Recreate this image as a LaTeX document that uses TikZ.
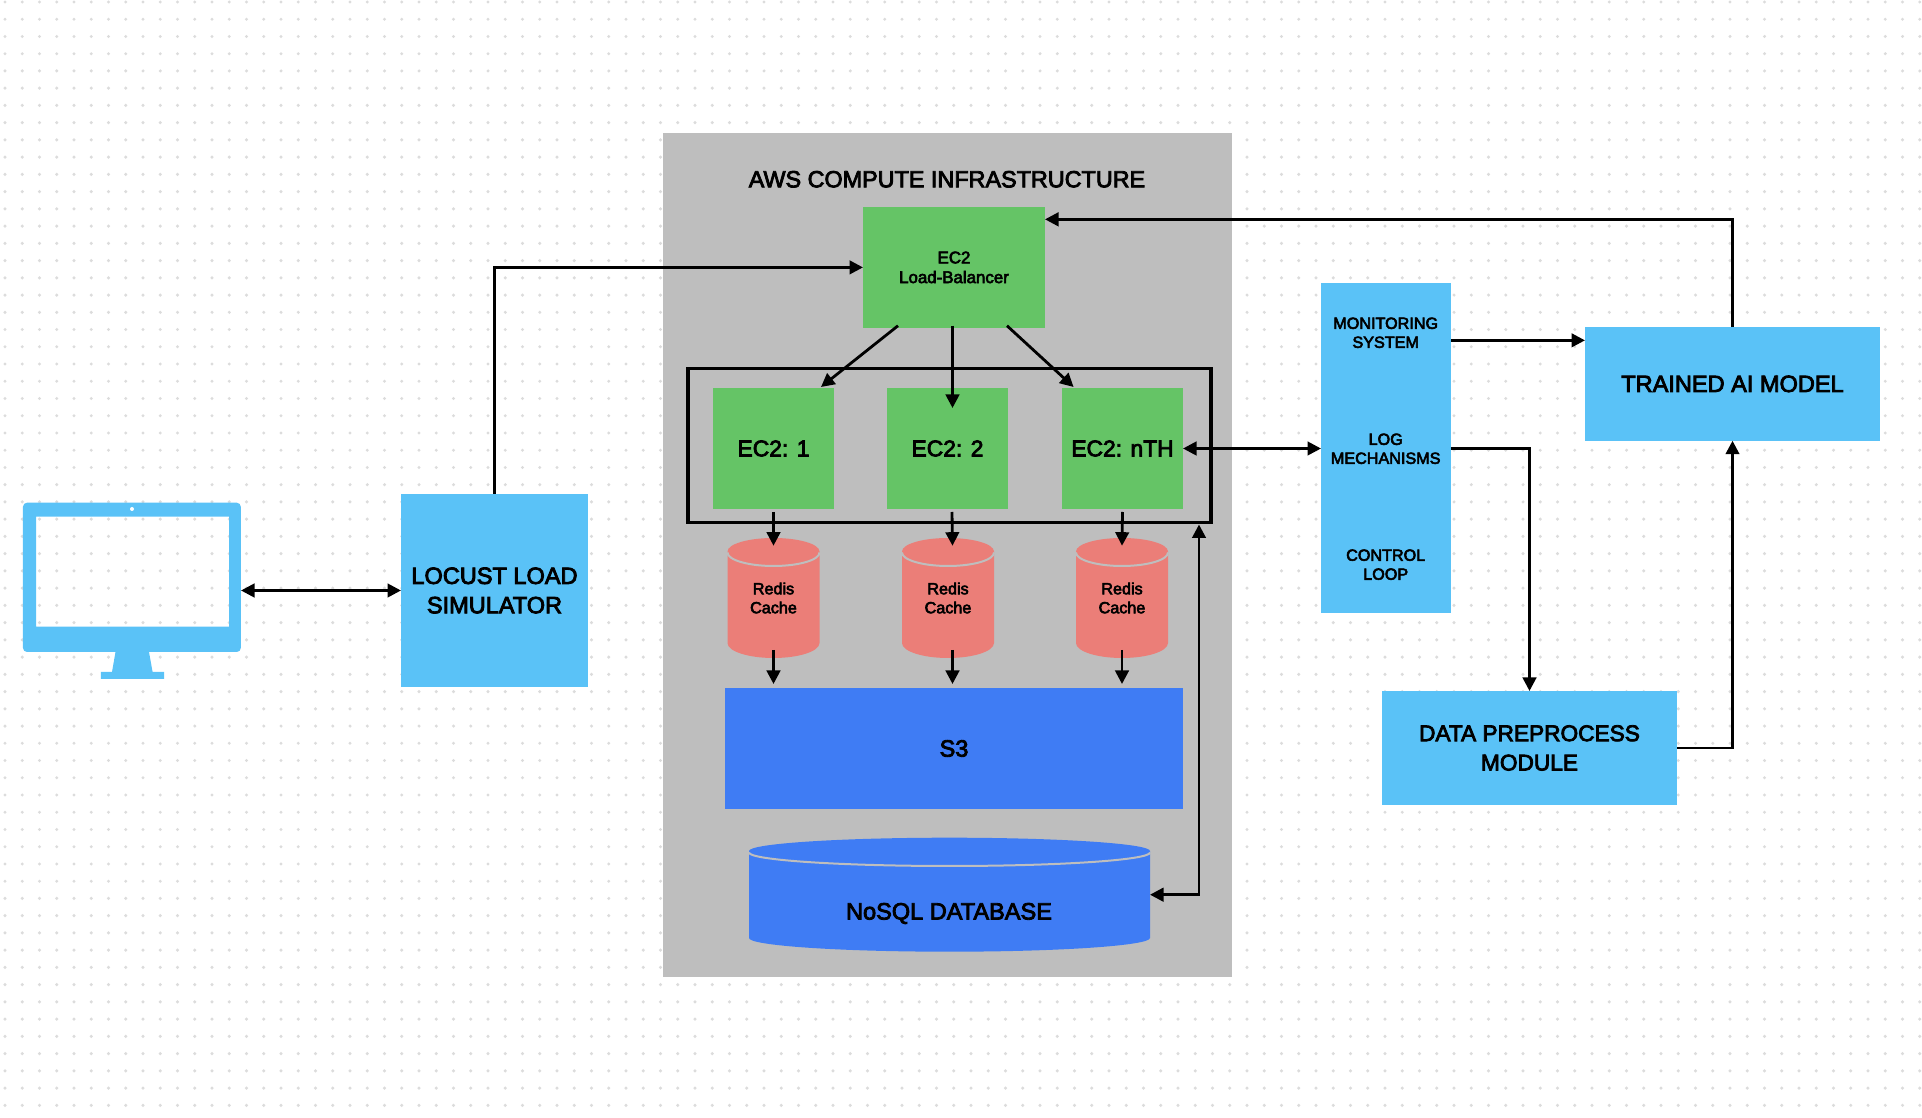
\documentclass[tikz,border=0pt]{standalone}
\usepackage{fontspec}
\setmainfont[FakeBold=3.5]{Liberation Sans}
\usetikzlibrary{arrows.meta}
\definecolor{skyblue}{HTML}{5AC2F7}
\definecolor{ecgreen}{HTML}{65C466}
\definecolor{cachered}{HTML}{EB7E78}
\definecolor{storeblue}{HTML}{3F7CF4}
\definecolor{awsgray}{HTML}{BEBEBE}
\definecolor{dotgray}{HTML}{DCDCDC}
\tikzset{
  boxbase/.style={rectangle,inner sep=0,outer sep=0,align=center,text=black},
  bigtext/.style={font=\fontsize{6.7}{8.35}\selectfont},
  smalltext/.style={font=\fontsize{4.6}{5.4}\selectfont},
  skybox/.style={boxbase,bigtext,fill=skyblue},
  ecbox/.style={boxbase,font=\fontsize{6.5}{8.35}\selectfont,fill=ecgreen,minimum width=1.21cm,minimum height=1.21cm},
  storebox/.style={boxbase,bigtext,fill=storeblue},
  rediscyl/.style={boxbase,smalltext,minimum width=.92cm,minimum height=1.2cm},
  rimline/.style={draw=awsgray,line width=.02cm},
  dotrow/.style={dotgray,line cap=round,line width=.034cm,dash pattern=on 0pt off .1725cm},
  flow/.style={-{Triangle[length=.135cm,width=.135cm]},line width=.028cm,black},
  flowboth/.style={{Triangle[length=.135cm,width=.135cm]}-{Triangle[length=.135cm,width=.135cm]},line width=.028cm,black}
}
\begin{document}
\begin{tikzpicture}
  \useasboundingbox (0,0) rectangle (19.22,-11.18);
  % dotted canvas
  \foreach \j in {0,...,64}
    \draw[dotrow] (.05,{-.02-.1724*\j}) -- (19.22,{-.02-.1724*\j});
  % monitor
  \fill[skyblue,even odd rule,rounded corners=.04cm] (.23,-5.027) rectangle (2.408,-6.52) [sharp corners] (.36,-5.167) rectangle (2.29,-6.267);
  \fill[skyblue] (1.155,-6.52) -- (1.49,-6.52) -- (1.526,-6.72) -- (1.64,-6.72) -- (1.64,-6.79) -- (1.008,-6.79) -- (1.008,-6.72) -- (1.12,-6.72) -- cycle;
  \fill[white] (1.32,-5.09) circle (.02);
  \node[boxbase,minimum width=2.18cm,minimum height=1.49cm] (pc) at (1.32,-5.775) {};
  \node[skybox,minimum width=1.87cm,minimum height=1.93cm] (locust) at (4.945,-5.905) {LOCUST LOAD\\SIMULATOR};
  % aws block
  \node[boxbase,fill=awsgray,minimum width=5.69cm,minimum height=8.437cm] (aws) at (9.475,-5.549) {};
  \node[boxbase,font=\fontsize{6.65}{8.35}\selectfont] (awstitle) at (9.47,-1.793) {AWS COMPUTE INFRASTRUCTURE};
  \node[boxbase,font=\fontsize{4.8}{5.6}\selectfont,fill=ecgreen,minimum width=1.82cm,minimum height=1.207cm] (lb) at (9.54,-2.674) {EC2\\Load-Balancer};
  \node[boxbase,draw=black,line width=.035cm,minimum width=5.23cm,minimum height=1.54cm] (cluster) at (9.495,-4.455) {};
  \node[ecbox] (ec2a) at (7.735,-4.485) {EC2: 1};
  \node[ecbox] (ec2b) at (9.475,-4.485) {EC2: 2};
  \node[ecbox] (ec2c) at (11.225,-4.485) {EC2: nTH};
  \foreach \cx in {7.735,9.48,11.22} {
    \fill[cachered] ({\cx-.46},-5.515) arc[start angle=180,end angle=0,x radius=.46,y radius=.135] -- ({\cx+.46},-6.43) arc[start angle=0,end angle=-180,x radius=.46,y radius=.15] -- cycle;
    \draw[rimline] ({\cx-.46},-5.525) arc[start angle=180,end angle=360,x radius=.46,y radius=.135];
  }
  \node[rediscyl] (redisa) at (7.735,-5.98) {Redis\\Cache};
  \node[rediscyl] (redisb) at (9.48,-5.98) {Redis\\Cache};
  \node[rediscyl] (redisc) at (11.22,-5.98) {Redis\\Cache};
  \node[storebox,minimum width=4.58cm,minimum height=1.21cm] (sthree) at (9.54,-7.485) {S3};
  \fill[storeblue] (7.49,-8.51) arc[start angle=180,end angle=0,x radius=2.005,y radius=.133] -- (11.5,-9.38) arc[start angle=0,end angle=-180,x radius=2.005,y radius=.137] -- cycle;
  \draw[rimline] (7.49,-8.525) arc[start angle=180,end angle=360,x radius=2.005,y radius=.135];
  \node[boxbase,minimum width=4.01cm,minimum height=1.14cm] (nosql) at (9.495,-8.947) {};
  \node[boxbase,bigtext] (nosqltext) at (9.49,-9.135) {NoSQL DATABASE};
  % right side
  \node[skybox,minimum width=1.30cm,minimum height=3.298cm] (mon) at (13.86,-4.479) {};
  \node[boxbase,smalltext] (monitoring) at (13.857,-3.328) {MONITORING\\SYSTEM};
  \node[boxbase,smalltext] (logs) at (13.857,-4.488) {LOG\\MECHANISMS};
  \node[boxbase,smalltext] (control) at (13.857,-5.647) {CONTROL\\LOOP};
  \node[skybox,minimum width=2.95cm,minimum height=1.137cm] (trained) at (17.325,-3.839) {TRAINED AI MODEL};
  \node[skybox,font=\fontsize{6.45}{8.35}\selectfont,minimum width=2.95cm,minimum height=1.14cm] (data) at (15.295,-7.48) {DATA PREPROCESS\\MODULE};
  % connectors
  \draw[flowboth] (pc.east |- locust.west) -- (locust.west);
  \draw[flow] (locust.north) |- (lb.west);
  \draw[flow] (trained.north) |- ([yshift=-.123cm]lb.north east);
  \draw[flow] ([xshift=-.56cm,yshift=.02cm]lb.south) -- ([xshift=-.13cm,yshift=.01cm]ec2a.north east);
  \draw[flow] ([xshift=-.015cm,yshift=.02cm]lb.south) -- ([xshift=-.015cm,yshift=-.2cm]ec2b.north -| lb.south);
  \draw[flow] ([xshift=.53cm,yshift=.02cm]lb.south) -- ([xshift=.116cm,yshift=.01cm]ec2c.north west);
  \foreach \n/\dx in {a/0,b/.045,c/0} {
    \draw[flow] ([xshift=\dx cm,yshift=-.03cm]ec2\n.south) -- ([xshift=\dx cm,yshift=-.077cm]redis\n.north);
    \draw[flow] ([xshift=\dx cm,yshift=.08cm]redis\n.south) -- ([xshift=\dx cm,yshift=.04cm]redis\n.south |- sthree.north);
  }
  \draw[flowboth] (ec2c.east) -- (ec2c.east -| mon.west);
  \draw[flowboth] ([xshift=-.12cm,yshift=-.02cm]cluster.south east) |- (nosql.east);
  \draw[flow] ([yshift=-.133cm]trained.north west -| mon.east) -- ([yshift=-.133cm]trained.north west);
  \draw[flow] (ec2c.east -| mon.east) -| (data.north);
  \draw[flow] (data.east) -| (trained.south);
\end{tikzpicture}
\end{document}
